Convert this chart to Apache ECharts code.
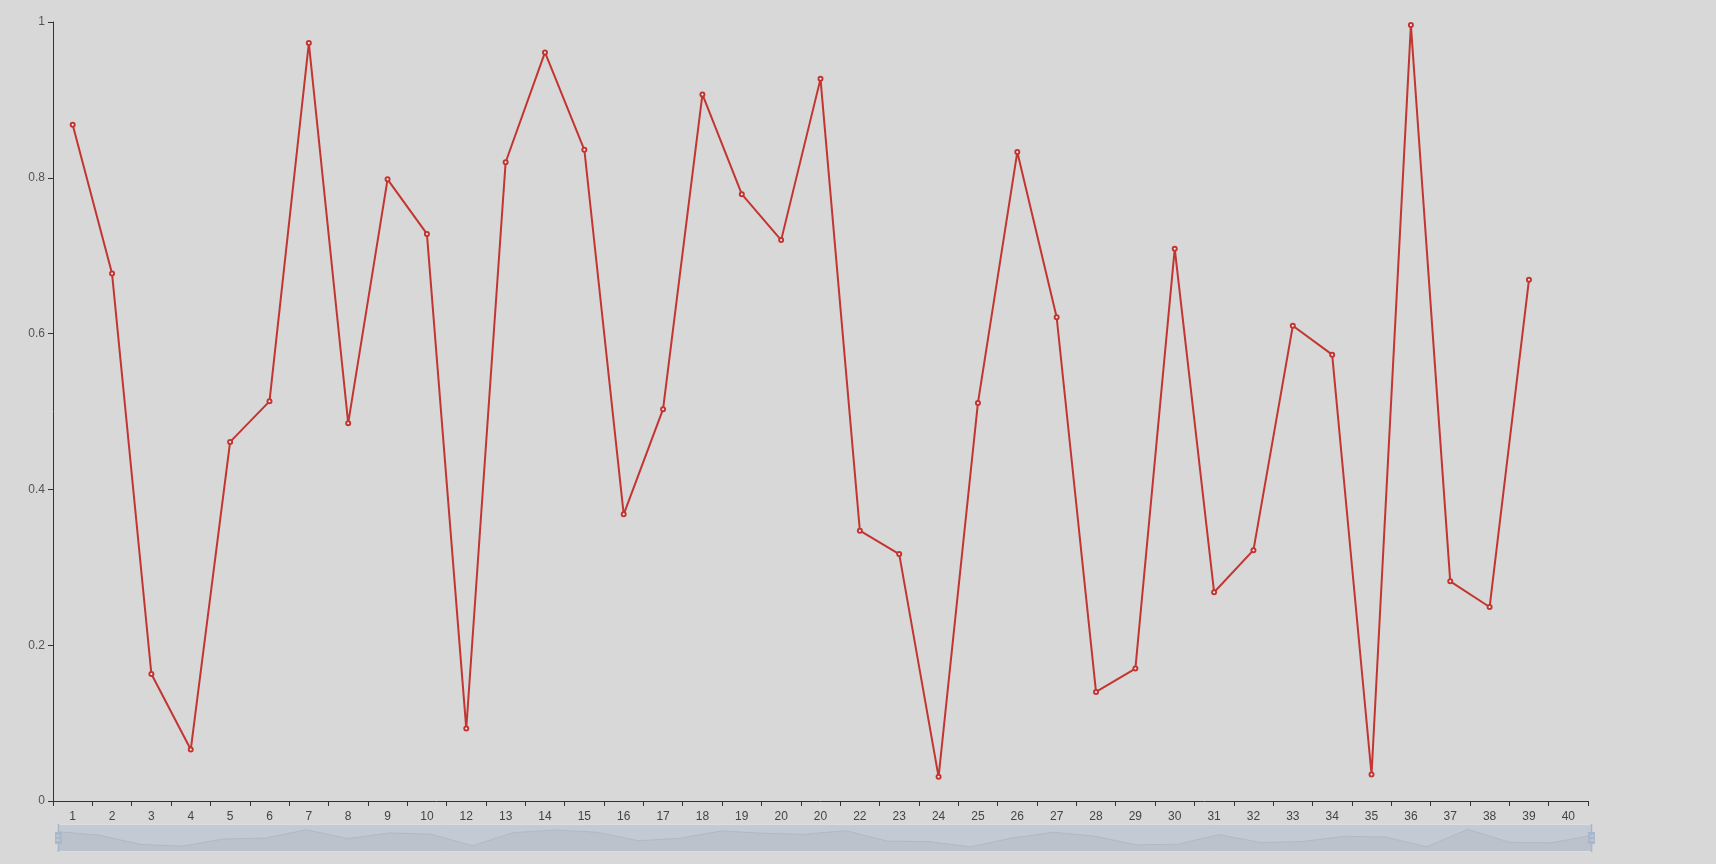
<!DOCTYPE html>
<html>
<head>
<meta charset="utf-8">
<script src="https://cdn.jsdelivr.net/npm/echarts@6/dist/echarts.min.js"></script>
<style>
html,body{margin:0;padding:0;background:#d8d8d8;}
#main{width:1716px;height:864px;}
</style>
</head>
<body>
<div id="main"></div>
<script>
var categories = ['1','2','3','4','5','6','7','8','9','10','12','13','14','15','16','17','18','19','20','20','22','23','24','25','26','27','28','29','30','31','32','33','34','35','36','37','38','39','40'];
var values = [0.868,0.677,0.163,0.066,0.461,0.513,0.973,0.485,0.798,0.728,0.093,0.820,0.961,0.836,0.368,0.503,0.907,0.779,0.720,0.927,0.347,0.317,0.031,0.511,0.833,0.621,0.140,0.170,0.709,0.268,0.322,0.610,0.573,0.034,0.996,0.282,0.249,0.669];
var yTicks = [0, 0.2, 0.4, 0.6, 0.8, 1];

var chart = echarts.init(document.getElementById('main'));
chart.setOption({
  backgroundColor: '#d8d8d8',
  animation: false,
  grid: { left: 53, right: 128, top: 22, bottom: 63 },
  xAxis: {
    type: 'category',
    data: categories,
    boundaryGap: true,
    axisLine: { show: true, lineStyle: { color: '#333' } },
    axisTick: { show: true, lineStyle: { color: '#333' } },
    axisLabel: { interval: 0, color: '#444', fontSize: 12, margin: 10 }
  },
  yAxis: {
    type: 'value',
    min: yTicks[0],
    max: yTicks[yTicks.length - 1],
    interval: 0.2,
    splitLine: { show: false },
    axisLine: { show: true, lineStyle: { color: '#333' } },
    axisTick: { show: true, lineStyle: { color: '#333' } },
    axisLabel: { color: '#555', fontSize: 12 }
  },
  dataZoom: [{
    type: 'slider',
    show: true,
    xAxisIndex: 0,
    start: 0,
    end: 100,
    left: 55,
    right: 126,
    bottom: 12,
    height: 28,
    brushSelect: false,
    showDetail: false,
    backgroundColor: 'rgba(47,69,84,0)',
    borderColor: '#ddd',
    fillerColor: 'rgba(167,183,204,0.4)',
    dataBackground: {
      lineStyle: { color: '#2f4554', width: 0.5, opacity: 0.3 },
      areaStyle: { color: 'rgba(47,69,84,0.3)', opacity: 0.3 }
    },
    selectedDataBackground: {
      lineStyle: { color: '#2f4554', width: 0.5, opacity: 0.3 },
      areaStyle: { color: 'rgba(47,69,84,0.3)', opacity: 0.3 }
    },
    handleIcon: 'M8.2,13.6V3.9H6.3v9.7H3.1v14.9h3.3v9.7h1.8v-9.7h3.3V13.6H8.2z M9.7,24.4H4.8v-1.4h4.9V24.4z M9.7,19.1H4.8v-1.4h4.9V19.1z',
    handleSize: '100%',
    handleStyle: { color: '#a7b7cc', borderColor: '#a7b7cc', borderWidth: 0 },
    moveHandleSize: 0
  }],
  series: [{
    type: 'line',
    data: values,
    symbol: 'emptyCircle',
    symbolSize: 4,
    showSymbol: true,
    itemStyle: { color: '#c23531' },
    lineStyle: { color: '#c23531', width: 2 }
  }]
});
</script>
</body>
</html>
